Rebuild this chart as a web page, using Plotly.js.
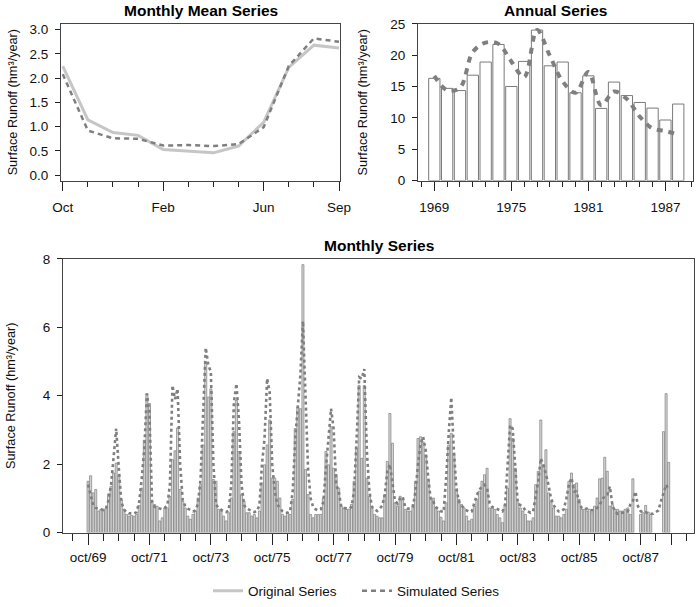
<!DOCTYPE html>
<html>
<head>
<meta charset="utf-8">
<script src="https://cdn.plot.ly/plotly-3.0.1.min.js"></script>
<style>html,body{margin:0;padding:0;background:#fff;}#chart{width:696px;height:607px;}</style>
</head>
<body>
<div id="chart"></div>
<script>
// ---------- DATA ----------
const meanMonthLabels = ['Oct','Nov','Dec','Jan','Feb','Mar','Apr','May','Jun','Jul','Aug','Sep'];
const meanOriginal  = [2.25, 1.14, 0.88, 0.82, 0.53, 0.49, 0.46, 0.60, 1.09, 2.22, 2.68, 2.62];
const meanSimulated = [2.08, 0.92, 0.76, 0.75, 0.61, 0.62, 0.60, 0.64, 0.99, 2.25, 2.82, 2.75];

const years = [1969,1970,1971,1972,1973,1974,1975,1976,1977,1978,1979,1980,1981,1982,1983,1984,1985,1986,1987,1988];
const annualOriginal  = [16.3,14.7,14.35,16.8,18.9,21.7,15.0,19.0,24.0,18.3,18.9,14.0,16.7,11.5,15.7,13.55,12.45,11.55,9.65,12.2];
const annualSimulated = [16.7,14.4,14.8,20.5,22.0,21.8,19.0,16.5,24.0,19.9,15.8,14.0,17.3,12.0,14.2,13.0,10.2,8.3,7.9,7.3];
const annualTickYears = [1969,1975,1981,1987];

const monthlyOriginal = [
 1.50,1.66,1.16,1.26,0.63,0.68,0.68,0.70,1.13,1.35,1.74,2.03,
 1.67,0.97,0.68,0.53,0.48,0.50,0.48,0.53,0.79,1.30,2.70,4.06,
 3.77,0.92,0.82,0.77,0.34,0.43,0.72,0.72,1.06,2.13,2.39,3.06,
 1.26,0.92,0.72,0.48,0.39,0.53,0.63,1.01,1.40,2.56,4.98,3.96,
 4.20,1.55,1.50,0.68,0.63,0.48,0.34,0.58,1.01,2.95,3.86,2.37,
 1.11,0.92,0.58,0.58,0.48,0.53,0.43,0.63,1.45,1.98,2.56,3.29,
 1.59,1.59,1.50,1.01,0.53,0.48,0.58,0.53,0.97,3.04,3.67,3.62,
 7.83,1.84,1.11,0.53,0.43,0.53,0.53,0.53,1.01,2.37,1.98,3.09,
 1.88,1.70,1.30,0.77,0.72,0.68,0.68,0.82,1.50,2.46,4.30,2.17,
 4.30,1.59,1.06,0.72,0.53,0.48,0.43,0.43,1.11,2.08,3.48,2.61,
 0.87,0.77,1.06,0.97,0.68,0.63,0.63,0.82,1.50,2.75,2.80,2.65,
 2.27,1.50,0.97,1.01,0.72,0.63,0.45,0.34,0.87,2.56,2.90,2.30,
 1.26,0.97,0.82,0.72,0.48,0.34,0.39,0.77,0.97,1.21,1.50,1.69,
 1.88,0.72,0.72,0.68,0.53,0.43,0.29,0.82,1.30,3.33,2.75,1.88,
 0.87,0.72,0.63,0.53,0.34,0.34,0.43,1.40,1.79,3.29,1.98,2.42,
 1.16,0.92,0.72,0.48,0.48,0.43,0.53,0.68,1.50,1.74,1.40,1.45,
 0.97,0.68,0.68,0.63,0.68,0.58,0.77,1.01,1.57,1.59,2.20,1.79,
 0.77,0.82,0.68,0.68,0.63,0.63,0.68,0.72,0.53,1.57,null,null,
 0.53,0.58,0.79,0.60,0.53,null,null,null,null,2.95,4.06,2.05
];
const monthlySimulated = [
 1.40,1.05,0.80,0.72,0.70,0.68,0.66,0.70,0.95,1.40,2.17,3.04,
 1.90,0.90,0.68,0.60,0.56,0.55,0.56,0.60,0.90,1.60,2.46,4.06,
 3.50,0.90,0.75,0.72,0.70,0.68,0.72,0.80,1.40,4.30,3.90,4.20,
 2.00,0.95,0.78,0.70,0.66,0.62,0.65,0.85,1.60,3.30,5.40,4.90,
 4.70,2.00,0.82,0.72,0.66,0.62,0.60,0.65,1.40,3.80,4.35,3.30,
 1.40,0.80,0.70,0.66,0.62,0.60,0.62,0.80,2.00,2.75,4.50,4.10,
 2.00,1.20,0.82,0.72,0.62,0.58,0.58,0.62,1.20,2.75,3.80,4.60,
 6.18,4.00,1.88,1.00,0.75,0.68,0.65,0.68,0.90,1.90,2.85,3.62,
 3.04,1.40,1.20,0.75,0.72,0.70,0.70,0.75,1.20,2.75,4.54,4.50,
 4.78,2.37,1.20,0.75,0.68,0.63,0.70,0.78,1.10,1.80,2.00,1.50,
 0.92,0.85,1.00,1.05,0.75,0.70,0.70,0.75,1.20,2.00,2.60,2.80,
 2.40,1.60,0.95,0.90,0.75,0.68,0.62,0.60,1.60,2.90,3.95,2.40,
 1.30,0.90,0.78,0.70,0.65,0.60,0.62,0.85,1.10,1.25,1.35,1.40,
 1.30,0.85,0.75,0.72,0.68,0.65,0.62,0.75,2.00,3.14,3.04,2.00,
 0.85,0.80,0.75,0.65,0.62,0.58,0.62,1.11,1.50,2.17,1.98,1.70,
 1.40,1.00,0.80,0.70,0.62,0.62,0.68,1.00,1.40,1.60,1.20,1.20,
 0.85,0.72,0.68,0.70,0.66,0.65,0.66,0.72,0.80,0.97,1.06,1.10,
 1.35,0.80,0.62,0.55,0.58,0.58,0.58,0.62,0.82,0.92,1.20,0.77,
 0.63,0.58,0.60,0.55,0.55,0.55,0.60,0.65,0.92,1.20,1.40,1.26
];
const monthlyTickLabels = ['oct/69','oct/71','oct/73','oct/75','oct/77','oct/79','oct/81','oct/83','oct/85','oct/87',''];

// ---------- BUILD ----------
const monthIdx = monthlyOriginal.map((_, i) => i);
const meanIdx = meanMonthLabels.map((_, i) => i);
const monthlyTickVals = monthlyTickLabels.map((_, k) => k < monthlyTickLabels.length - 1 ? k * 24 : monthlyOriginal.length);

const W = 696, H = 607;
const fx = p => p / W;
const fy = p => 1 - p / H;

const cOrig = '#c6c6c6', cSim = '#7f7f7f';
const fontFam = 'Liberation Sans, Arial, Helvetica, sans-serif';
const tickSize = 13.5;

const traces = [
  {type:'scatter', mode:'lines', x:meanIdx, y:meanOriginal, name:'Original Series',
   line:{color:cOrig, width:3}, xaxis:'x', yaxis:'y', showlegend:true},
  {type:'scatter', mode:'lines', x:meanIdx, y:meanSimulated, name:'Simulated Series',
   line:{color:cSim, width:2.5, dash:'5px,4px'}, xaxis:'x', yaxis:'y', showlegend:true},
  {type:'bar', x:years, y:annualOriginal, width:0.88, name:'Original Series',
   marker:{color:'#ffffff', line:{color:'#7a7a7a', width:1}}, xaxis:'x2', yaxis:'y2', showlegend:false},
  {type:'scatter', mode:'lines', x:years, y:annualSimulated, name:'Simulated Series',
   line:{color:cSim, width:4, dash:'6px,6px', shape:'spline', smoothing:1}, xaxis:'x2', yaxis:'y2', showlegend:false},
  {type:'bar', x:monthIdx, y:monthlyOriginal, width:0.8, name:'Original Series',
   marker:{color:'#d8d8d8', line:{color:'#7c7c7c', width:0.7}}, xaxis:'x3', yaxis:'y3', showlegend:false},
  {type:'scatter', mode:'lines', x:monthIdx, y:monthlySimulated, name:'Simulated Series',
   line:{color:cSim, width:2.6, dash:'3px,3px'}, xaxis:'x3', yaxis:'y3', showlegend:false, connectgaps:true}
];

const baseAxis = {
  showline:true, mirror:true, linecolor:'#444', linewidth:1,
  showgrid:false, zeroline:false, ticks:'outside', tickcolor:'#222', tickwidth:1,
  tickfont:{size:tickSize, color:'#111', family:fontFam}
};
const ytitle = (standoff) => ({text:'Surface Runoff (hm³/year)', font:{size:12.7, color:'#111'}, standoff:standoff});

const layout = {
  width:W, height:H, margin:{l:0,r:0,t:0,b:0},
  paper_bgcolor:'#ffffff', plot_bgcolor:'#ffffff',
  font:{family:fontFam, size:12, color:'#111'},
  bargap:0,
  showlegend:true,
  legend:{orientation:'h', x:fx(208), y:fy(596), xanchor:'left', yanchor:'middle',
          font:{size:13.5, color:'#111'}, itemwidth:30, entrywidth:104, entrywidthmode:'pixels',
          tracegroupgap:0, bgcolor:'rgba(0,0,0,0)'},
  xaxis:Object.assign({}, baseAxis, {
    domain:[fx(61), fx(340)], anchor:'y', range:[-0.07, 11.04],
    tickmode:'array', tickvals:[0,4,8,11], ticktext:[meanMonthLabels[0],meanMonthLabels[4],meanMonthLabels[8],meanMonthLabels[11]],
    ticklen:9, ticklabelstandoff:5,
    minor:{dtick:1, tick0:0, ticks:'outside', ticklen:5, tickcolor:'#222', showgrid:false}
  }),
  yaxis:Object.assign({}, baseAxis, {
    domain:[fy(182), fy(24)], anchor:'x', range:[-0.11, 3.12],
    tickmode:'array', tickvals:[0,0.5,1,1.5,2,2.5,3], ticktext:['0.0','0.5','1.0','1.5','2.0','2.5','3.0'],
    ticklen:5, ticklabelstandoff:4, title:ytitle(9)
  }),
  xaxis2:Object.assign({}, baseAxis, {
    domain:[fx(418), fx(693)], anchor:'y2', range:[1967.73, 1989.15],
    tickmode:'array', tickvals:annualTickYears, ticktext:annualTickYears.map(String),
    ticklen:9, ticklabelstandoff:5,
    minor:{dtick:1, tick0:1969, ticks:'outside', ticklen:5, tickcolor:'#222', showgrid:false}
  }),
  yaxis2:Object.assign({}, baseAxis, {
    domain:[fy(182), fy(24)], anchor:'x2', range:[0, 25],
    tickmode:'array', tickvals:[0,5,10,15,20,25],
    ticklen:5, ticklabelstandoff:4, title:ytitle(19)
  }),
  xaxis3:Object.assign({}, baseAxis, {
    domain:[fx(63), fx(694)], anchor:'y3', range:[-9.8, 236.9],
    tickmode:'array', tickvals:monthlyTickVals, ticktext:monthlyTickLabels,
    ticklen:11, ticklabelstandoff:1,
    minor:{dtick:6, tick0:0, ticks:'outside', ticklen:7, tickcolor:'#222', showgrid:false}
  }),
  yaxis3:Object.assign({}, baseAxis, {
    domain:[fy(537), fy(261)], anchor:'x3', range:[0, 8],
    tickmode:'array', tickvals:[0,2,4,6,8],
    ticklen:5, ticklabelstandoff:4, title:ytitle(24)
  }),
  annotations:[
    {text:'<b>Monthly Mean Series</b>', xref:'paper', yref:'paper', x:fx(200.5), y:fy(11), xanchor:'center', yanchor:'middle', showarrow:false, font:{size:15.5, color:'#000'}},
    {text:'<b>Annual Series</b>', xref:'paper', yref:'paper', x:fx(555.5), y:fy(11), xanchor:'center', yanchor:'middle', showarrow:false, font:{size:15.5, color:'#000'}},
    {text:'<b>Monthly Series</b>', xref:'paper', yref:'paper', x:fx(378.5), y:fy(248), xanchor:'center', yanchor:'middle', showarrow:false, font:{size:15.5, color:'#000'}}
  ]
};

Plotly.newPlot('chart', traces, layout, {displayModeBar:false, staticPlot:true});
</script>
</body>
</html>
